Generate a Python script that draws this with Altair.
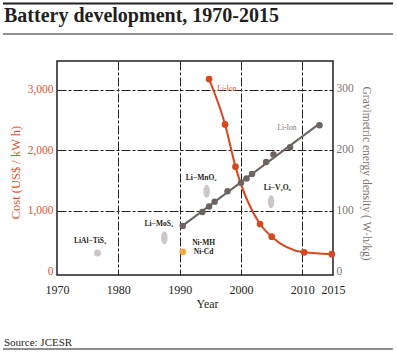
import altair as alt
import pandas as pd

# ---- data ----
cost_years = [1994.8, 1997.4, 1999.1, 2003.1, 2005.0, 2010.3, 2014.8]
cost_values = [3180, 2430, 1730, 780, 570, 310, 280]

density_years = [1990.5, 1993.7, 1994.8, 1995.7, 1997.8, 2000.0, 2000.9, 2001.8,
                 2004.1, 2005.3, 2008.0, 2012.8]
density_values = [75, 98, 107, 115, 132, 146, 153, 160, 180, 192, 204, 240]

old_names = ["LiAl\u2212TiS\u2082", "Li\u2212MoS\u2082", "Li\u2212MnO\u2082", "Li\u2212V\u2082O\u2085"]
old_years = [1976.6, 1987.5, 1994.4, 2004.9]
old_density = [31, 56, 132, 115]
old_label_years = [1975.4, 1986.6, 1993.5, 2005.9]
old_label_density = [51, 78, 153, 137]

nicd_year = [1990.5]
nicd_density = [33]
nicd_labels = ["Ni-MH", "Ni-Cd"]
nicd_label_years = [1993.9, 1993.9]
nicd_label_density = [47, 33]

liion_cost_label = ["Li-Ion"]
liion_cost_label_year = [1997.7]
liion_cost_label_value = [3010]
liion_dens_label = ["Li-Ion"]
liion_dens_label_year = [2007.5]
liion_dens_label_value = [235]

x_ticks = [1970, 1980, 1990, 2000, 2010, 2015]
cost_ticks = [0, 1000, 2000, 3000]
density_ticks = [0, 100, 200, 300]

title_text = "Battery development, 1970-2015"
source_text = "Source: JCESR"

# ---- styles ----
RED = "#d4491f"
RED_TXT = "#dd5431"
GRAY = "#6d6461"
GRAY_TXT = "#7d7472"
LIGHT = "#cbc6c4"
ORANGE = "#f6a63f"
INK = "#231f20"
FONT = "Liberation Serif"
DASH = [9, 2, 3, 2]
ELLIPSE = "M0,-1A0.5,1,0,1,1,0,1A0.5,1,0,1,1,0,-1Z"

cost_df = pd.DataFrame({"year": cost_years, "cost": cost_values})
dens_df = pd.DataFrame({"year": density_years, "density": density_values})
old_df = pd.DataFrame({"year": old_years, "density": old_density})
old_lab_df = pd.DataFrame({"year": old_label_years, "density": old_label_density, "label": old_names})
nicd_df = pd.DataFrame({"year": nicd_year, "density": nicd_density})
nicd_lab_df = pd.DataFrame({"year": nicd_label_years, "density": nicd_label_density, "label": nicd_labels})
li_cost_df = pd.DataFrame({"year": liion_cost_label_year, "cost": liion_cost_label_value, "label": liion_cost_label})
li_dens_df = pd.DataFrame({"year": liion_dens_label_year, "density": liion_dens_label_value, "label": liion_dens_label})
deco_df = pd.DataFrame({"title": [title_text], "source": [source_text]})

x_enc = alt.X(
    "year:Q",
    scale=alt.Scale(domain=[1970, 2015], nice=False, zero=False),
    axis=alt.Axis(
        values=x_ticks, format="d", ticks=False, domain=False, labelPadding=9,
        labelFontSize=12, labelColor=INK, labelFont=FONT, labelFlush=False,
        labelOverlap=False, grid=True, gridColor=INK, gridDash=DASH, gridWidth=1,
        gridOpacity={"condition": {"test": "datum.value == 1970 || datum.value == 2015", "value": 0}, "value": 1},
        title="Year", titleFont=FONT, titleFontSize=12, titleFontWeight="normal",
        titleColor=INK, titleX=150, titleY=28, titleBaseline="middle", titleAlign="center",
    ),
)

cost_axis = alt.Axis(
    values=cost_ticks, format=",.0f", ticks=False, domain=False, labelPadding=4,
    labelColor=RED_TXT, labelFontSize=11.5, labelFont=FONT, grid=True, gridColor=INK,
    gridDash=DASH, gridWidth=1,
    gridOpacity={"condition": {"test": "datum.value == 0", "value": 0}, "value": 1},
    title="Cost (US$ / kW h)", titleColor=RED_TXT, titleFont=FONT, titleFontSize=12.5,
    titleFontWeight="normal", titleX=-42, titleY=111, titleAngle=270,
    titleBaseline="middle", titleAlign="center",
)
y_cost = alt.Y("cost:Q", scale=alt.Scale(domain=[-65, 3480], nice=False, zero=False),
               axis=cost_axis, title="Cost (US$ / kW h)")

dens_axis = alt.Axis(
    orient="right", values=density_ticks, format="d", ticks=False, domain=False, labelPadding=3,
    labelColor=GRAY_TXT, labelFontSize=11.5, labelFont=FONT, grid=False,
    title="Gravimetric energy density ( W\u00b7h/kg)", titleColor=GRAY_TXT, titleFont=FONT,
    titleFontSize=11.5, titleFontWeight="normal", titleX=32, titleY=112, titleAngle=90,
    titleBaseline="middle", titleAlign="center",
)
y_dens = alt.Y("density:Q", scale=alt.Scale(domain=[-5, 345], nice=False, zero=False),
               axis=dens_axis, title="Gravimetric energy density ( W\u00b7h/kg)")

# ---- left (cost) layer ----
cost_line = alt.Chart(cost_df).mark_line(color=RED, strokeWidth=2, interpolate="monotone").encode(x=x_enc, y=y_cost)
cost_pts = alt.Chart(cost_df).mark_point(filled=True, color=RED, size=45, opacity=1).encode(x=x_enc, y=y_cost)
cost_lab = alt.Chart(li_cost_df).mark_text(color=RED_TXT, font=FONT, fontSize=7.5, align="center", baseline="middle").encode(
    x=x_enc, y=y_cost, text="label:N")

title_mark = alt.Chart(deco_df).mark_text(font=FONT, fontSize=20, fontWeight="bold", color=INK,
                                          align="left", baseline="alphabetic").encode(
    x=alt.value(-53), y=alt.value(-39), text="title:N")
source_mark = alt.Chart(deco_df).mark_text(font=FONT, fontSize=11, color=INK,
                                           align="left", baseline="alphabetic").encode(
    x=alt.value(-53), y=alt.value(284.5), text="source:N")
rule_top = alt.Chart(deco_df).mark_rule(color=INK, strokeWidth=2.2).encode(
    x=alt.value(-54), x2=alt.value(336), y=alt.value(-57.5))
rule_mid = alt.Chart(deco_df).mark_rule(color=INK, strokeWidth=1.2).encode(
    x=alt.value(-54), x2=alt.value(336), y=alt.value(-27))
rule_bot = alt.Chart(deco_df).mark_rule(color=INK, strokeWidth=1.2).encode(
    x=alt.value(-54), x2=alt.value(336), y=alt.value(288))

left = alt.layer(cost_line, cost_pts, cost_lab, title_mark, source_mark, rule_top, rule_mid, rule_bot)

# ---- right (density) layer ----
dens_line = alt.Chart(dens_df).transform_regression(
    "year", "density", extent=[density_years[0], density_years[-1]]
).mark_line(color=GRAY, strokeWidth=2).encode(x=x_enc, y=y_dens)
dens_pts = alt.Chart(dens_df).mark_point(filled=True, color=GRAY, size=42, opacity=1).encode(x=x_enc, y=y_dens)
dens_lab = alt.Chart(li_dens_df).mark_text(color=GRAY_TXT, font=FONT, fontSize=7.5, align="center", baseline="middle").encode(
    x=x_enc, y=y_dens, text="label:N")

old_circle = alt.Chart(old_df.iloc[:1]).mark_point(filled=True, color=LIGHT, size=49, opacity=1, shape="circle").encode(x=x_enc, y=y_dens)
old_ell = alt.Chart(old_df.iloc[1:]).mark_point(filled=True, color=LIGHT, size=165, opacity=1, shape=ELLIPSE).encode(x=x_enc, y=y_dens)
old_lab = alt.Chart(old_lab_df).mark_text(color=INK, font=FONT, fontSize=7.5, fontWeight="bold", align="center", baseline="middle").encode(
    x=x_enc, y=y_dens, text="label:N")
nicd_pt = alt.Chart(nicd_df).mark_point(filled=True, color=ORANGE, size=45, opacity=1, shape="circle").encode(x=x_enc, y=y_dens)
nicd_lab = alt.Chart(nicd_lab_df).mark_text(color=INK, font=FONT, fontSize=7.5, fontWeight="bold", align="center", baseline="middle").encode(
    x=x_enc, y=y_dens, text="label:N")

right = alt.layer(dens_line, dens_pts, dens_lab, old_circle, old_ell, old_lab, nicd_pt, nicd_lab)

chart = alt.layer(left, right).resolve_scale(y="independent").properties(
    width=276, height=214,
    padding={"left": 57, "top": 61, "right": 64, "bottom": 78},
    autosize=alt.AutoSizeParams(type="none"),
    background="white",
).configure_view(stroke=INK, strokeWidth=1.5)

chart.save("out.html", embed_options={"renderer": "svg", "actions": False})
